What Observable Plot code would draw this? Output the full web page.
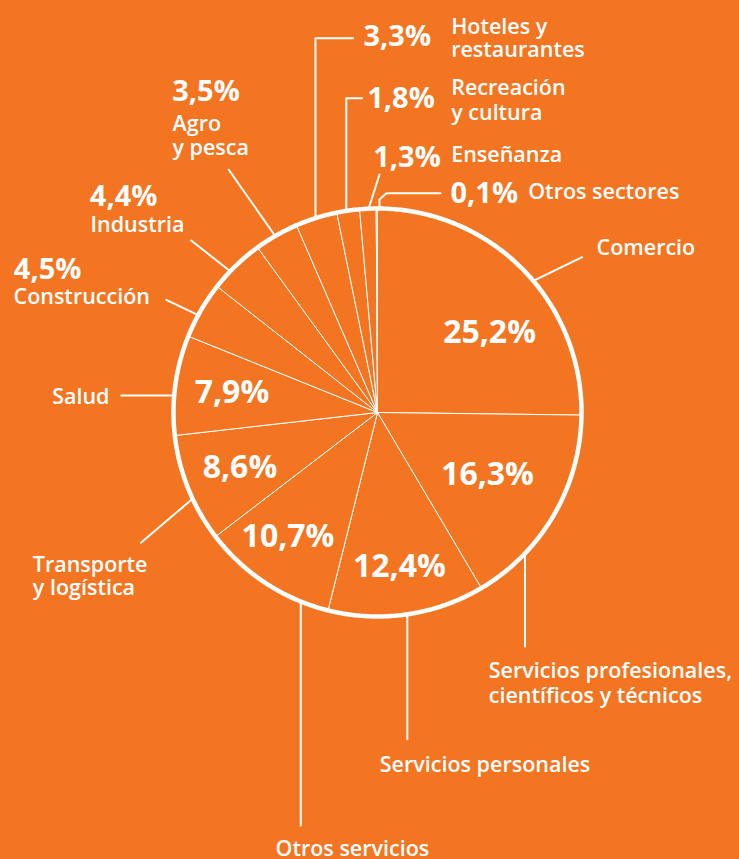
<!DOCTYPE html>
<html>
<head>
<meta charset="utf-8">
<script src="https://cdn.jsdelivr.net/npm/d3@7"></script>
<script src="https://cdn.jsdelivr.net/npm/@observablehq/plot@0.6"></script>
<style>
  html, body { margin: 0; padding: 0; background: #f37521; }
  svg { display: block; }
</style>
</head>
<body>
<div id="chart"></div>
<script>
// ---- Data ----
const categories = [
  "Comercio",
  "Servicios profesionales, científicos y técnicos",
  "Servicios personales",
  "Otros servicios",
  "Transporte y logística",
  "Salud",
  "Construcción",
  "Industria",
  "Agro y pesca",
  "Hoteles y restaurantes",
  "Recreación y cultura",
  "Enseñanza",
  "Otros sectores"
];
const values = [25.2, 16.3, 12.4, 10.7, 8.6, 7.9, 4.5, 4.4, 3.5, 3.3, 1.8, 1.3, 0.1];
const nameLabels = [
  "Comercio",
  "Servicios profesionales,\ncientíficos y técnicos",
  "Servicios personales",
  "Otros servicios",
  "Transporte\ny logística",
  "Salud",
  "Construcción",
  "Industria",
  "Agro\ny pesca",
  "Hoteles y\nrestaurantes",
  "Recreación\ny cultura",
  "Enseñanza",
  "Otros sectores"
];
const valueLabels = values.map(v => v.toFixed(1).replace(".", ",") + "%");

// ---- Layout (positions / styles) ----
const W = 739, H = 859;
const ORANGE = "#f37521";
const CX = 377, CY = 412, R = 204;
const NAME_SIZE = 21.5;
const insideLayout = [
  {k: 0.675, dA: 9.1}, {k: 0.62, dA: -0.5}, {k: 0.763, dA: 0.2},
  {k: 0.75, dA: 2.5}, {k: 0.726, dA: 0.2}, {k: 0.72, dA: 0}
];
// outside value labels: index -> position of cap top
const outsideValueLayout = {
  6: [13.3, 258], 7: [89.3, 185], 8: [171.7, 80], 9: [363, 25],
  10: [366.7, 87], 11: [372.7, 145.7], 12: [450, 181.7]
};
// name labels: x, cap top of first line, anchor, line spacing in px
const nameLayout = [
  {x: 596, top: 239.3, anchor: "start", lh: 24},
  {x: 488.3, top: 662.3, anchor: "start", lh: 25.4},
  {x: 379.3, top: 756.7, anchor: "start", lh: 24},
  {x: 275, top: 840.5, anchor: "start", lh: 24},
  {x: 32.3, top: 556, anchor: "start", lh: 23.4},
  {x: 109, top: 388, anchor: "end", lh: 24},
  {x: 13, top: 288, anchor: "start", lh: 24},
  {x: 90, top: 216.7, anchor: "start", lh: 24},
  {x: 172, top: 115, anchor: "start", lh: 24.5},
  {x: 450.7, top: 18.3, anchor: "start", lh: 23.4},
  {x: 450.7, top: 79.3, anchor: "start", lh: 24.7},
  {x: 450.7, top: 146.7, anchor: "start", lh: 24},
  {x: 527.7, top: 183.3, anchor: "start", lh: 24}
];
// leader: angle (deg, clockwise from top) where it leaves the circle, then further points (null = keep previous)
const leaderLayout = [
  {a: 49.8, pts: [[581.7, 256.7]]},
  {a: 133.7, pts: [[null, 646]]},
  {a: 171.6, pts: [[null, 738.7]]},
  {a: 202.1, pts: [[null, 825]]},
  {a: 245, pts: [[140.4, 542.3]]},
  {a: 274.8, pts: [[120.7, null]]},
  {a: 298.5, pts: [[165.7, 299.3]]},
  {a: 313.8, pts: [[190.7, 240]]},
  {a: 329.9, pts: [[228.3, 169.3]]},
  {a: 342.3, pts: [[null, 37.7], [352.7, null]]},
  {a: 351.2, pts: [[null, 97.7], [361.7, null]]},
  {a: 357.5, pts: [[379, 174]]},
  {a: 0.56, pts: [[null, 199], [386, 192.7], [440, null]]}
];

// ---- Derived geometry ----
const rad = d => d * Math.PI / 180;
const px = (a, r) => CX + r * Math.sin(rad(a));
const py = (a, r) => CY - r * Math.cos(rad(a));
const total = d3.sum(values);
const cum = d3.cumsum(values);
const slices = values.map((v, i) => {
  const a0 = (cum[i] - v) / total * 360;
  const a1 = cum[i] / total * 360;
  return {i, cat: categories[i], a0, a1, mid: (a0 + a1) / 2};
});

const slicePts = [];
for (const s of slices) {
  slicePts.push({cat: s.cat, x: CX, y: CY});
  const n = Math.max(1, Math.ceil((s.a1 - s.a0) / 0.5));
  for (let j = 0; j <= n; j++) {
    const a = s.a0 + (s.a1 - s.a0) * j / n;
    slicePts.push({cat: s.cat, x: px(a, R), y: py(a, R)});
  }
  slicePts.push({cat: s.cat, x: CX, y: CY});
}
const circlePts = d3.range(0, 361, 0.5).map(a => ({x: px(a, R), y: py(a, R)}));

const leaderPts = [];
leaderLayout.forEach((l, i) => {
  let x = px(l.a, R), y = py(l.a, R);
  leaderPts.push({cat: categories[i], x, y});
  for (const [qx, qy] of l.pts) {
    if (qx != null) x = qx;
    if (qy != null) y = qy;
    leaderPts.push({cat: categories[i], x, y});
  }
});

const insideText = insideLayout.map((l, i) => {
  const s = slices[i];
  const a = s.mid + l.dA;
  return {x: px(a, R * l.k), y: py(a, R * l.k), text: valueLabels[i]};
});
const outsideText = Object.entries(outsideValueLayout).map(([i, [x, y]]) => ({x, y, text: valueLabels[+i]}));

const font = "Open Sans";
const nameMarks = nameLabels.map((t, i) => {
  const L = nameLayout[i];
  const lhEm = L.lh / NAME_SIZE;
  // Plot places first baseline at y + 0.71*lineHeight em; shift so cap top sits at L.top
  const y = L.top - 0.71 * NAME_SIZE * (lhEm - 1);
  return Plot.text([{x: L.x, y, text: t}], {
    x: "x", y: "y", text: "text", fill: "white",
    fontSize: NAME_SIZE, fontWeight: 600,
    textAnchor: L.anchor, lineAnchor: "top", lineHeight: lhEm
  });
});

const chart = Plot.plot({
  width: W, height: H,
  margin: 0,
  x: {domain: [0, W], range: [0, W], axis: null},
  y: {domain: [0, H], range: [0, H], axis: null},
  style: {background: ORANGE, fontFamily: font},
  marks: [
    Plot.line(slicePts, {x: "x", y: "y", z: "cat", fill: ORANGE, stroke: "white", strokeWidth: 1, strokeLinejoin: "miter"}),
    Plot.line(circlePts, {x: "x", y: "y", stroke: "white", strokeWidth: 4.5}),
    Plot.line(leaderPts, {x: "x", y: "y", z: "cat", stroke: "white", strokeWidth: 2}),
    Plot.text(insideText, {x: "x", y: "y", text: "text", fill: "white", fontSize: 32, fontWeight: "bold", textAnchor: "middle", lineAnchor: "middle"}),
    Plot.text(outsideText, {x: "x", y: "y", text: "text", fill: "white", fontSize: 29, fontWeight: "bold", textAnchor: "start", lineAnchor: "top"}),
    ...nameMarks
  ]
});
document.getElementById("chart").appendChild(chart);
</script>
</body>
</html>
